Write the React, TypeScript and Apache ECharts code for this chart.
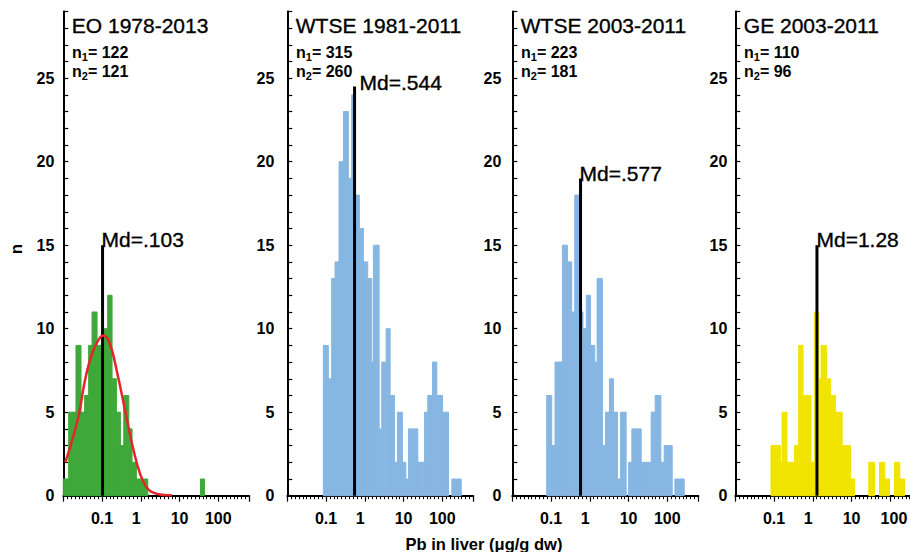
import React, { useEffect, useRef } from 'react';
import * as echarts from 'echarts';

// ---------------- data ----------------
const panelTitles = ['EO 1978-2013', 'WTSE 1981-2011', 'WTSE 2003-2011', 'GE 2003-2011'];
const panelN1 = [122, 315, 223, 110];
const panelN2 = [121, 260, 181, 96];
const medianValues = [0.103, 0.544, 0.577, 1.28];
const medianLabels = ['Md=.103', 'Md=.544', 'Md=.577', 'Md=1.28'];
const medianLineHeights = [15, 24.5, 19, 15];

// histogram bin edges (log10 of µg/g dw) and counts
const eoEdgesLog10 = [-2.0, -1.862, -1.768, -1.673, -1.543, -1.45, -1.346, -1.258, -1.129, -0.99, -0.855, -0.742, -0.63, -0.527, -0.44, -0.31, -0.226, -0.114, -0.016, 0.082, 0.18, 1.54, 1.643];
const eoCounts = [1, 5, 5, 9, 5, 6, 9, 11, 9, 10, 12, 7, 5, 3, 6, 4, 2, 1, 1, 1, 0, 1];

const wtse8111EdgesLog10 = [-1.07, -0.941, -0.855, -0.768, -0.665, -0.553, -0.424, -0.338, -0.25, -0.14, -0.036, 0.075, 0.179, 0.222, 0.369, 0.438, 0.55, 0.653, 0.765, 0.842, 0.972, 1.058, 1.127, 1.248, 1.368, 1.454, 1.54, 1.626, 1.747, 1.858, 2.005, 2.16, 2.246, 2.367, 2.488];
const wtse8111Counts = [9, 7, 13, 14, 20, 23, 19, 24, 18, 16, 14, 13, 8, 15, 4, 8, 10, 6, 2, 5, 2, 1, 4, 4, 2, 2, 5, 6, 8, 6, 5, 0, 1, 1];

const wtse0311EdgesLog10 = [-1.112, -0.983, -0.897, -0.802, -0.707, -0.578, -0.466, -0.388, -0.25, -0.175, -0.09, 0.02, 0.128, 0.189, 0.326, 0.404, 0.507, 0.611, 0.714, 0.791, 0.938, 0.998, 1.085, 1.205, 1.326, 1.455, 1.584, 1.687, 1.834, 1.92, 2.02, 2.127, 2.196, 2.317, 2.437];
const wtse0311Counts = [6, 3, 8, 8, 15, 14, 11, 18, 11, 10, 12, 9, 8, 13, 3, 5, 7, 5, 1, 5, 0, 2, 4, 4, 2, 2, 5, 6, 2, 3, 3, 0, 1, 1];

const ge0311EdgesLog10 = [-1.078, -0.958, -0.837, -0.794, -0.665, -0.57, -0.475, -0.364, -0.251, -0.148, -0.045, 0.041, 0.153, 0.214, 0.351, 0.455, 0.584, 0.67, 0.757, 0.865, 0.972, 1.075, 1.445, 1.592, 1.721, 1.859, 1.979, 2.109, 2.246, 2.367];
const ge0311Counts = [3, 3, 2, 5, 2, 2, 3, 9, 6, 6, 2, 11, 7, 9, 7, 6, 5, 5, 3, 3, 1, 0, 2, 0, 2, 1, 0, 2, 1];

// fitted curve (EO panel)
const eoFitLog10 = [-1.948, -1.775, -1.604, -1.432, -1.26, -1.088, -0.974, -0.871, -0.742, -0.613, -0.484, -0.354, -0.225, -0.096, 0.033, 0.204, 0.42, 0.8];
const eoFitN = [2.0, 3.3, 4.8, 7.0, 8.5, 9.35, 9.6, 9.45, 8.7, 7.4, 6.0, 4.5, 3.1, 1.9, 1.0, 0.35, 0.1, 0.02];

// axes
const xTickValuesLog10 = [-1, 0, 1, 2];
const xTickLabels = ['0.1', '1', '10', '100'];
const X_MIN = -2;
const X_MAX = 2.8;
const Y_MAX = 29;
const Y_LABEL_STEP = 5;
const xAxisTitle = 'Pb in liver (μg/g dw)';
const yAxisTitle = 'n';

// ---------------- layout / style ----------------
const FONT = '"Liberation Sans", Arial, Helvetica, sans-serif';
const CANVAS_W = 940; // wider than the 910 view so the last panel is not squeezed; clipped by the wrapper
const GRID_LEFTS = [63.3, 287.3, 512.3, 735.3];
const GRID_W = 186;
const GRID_TOP = 11.4;
const GRID_H = 484.3;
const Y_LABEL_MARGINS = [9, 13, 11, 8];
const MD_DX = [-1, 5, -1, -0.5];
const MD_DY = [-5.6, -4.1, -5.1, -5.6];
const FILLS = ['#3fa83a', '#86b6e2', '#86b6e2', '#f0e400'];
const RED = '#e3262b';

export default function App() {
  const ref = useRef<HTMLDivElement>(null);

  useEffect(() => {
    const el = ref.current;
    if (!el) return;
    const chart = echarts.init(el, undefined, { renderer: 'svg' });

    const edgesList = [eoEdgesLog10, wtse8111EdgesLog10, wtse0311EdgesLog10, ge0311EdgesLog10];
    const countsList = [eoCounts, wtse8111Counts, wtse0311Counts, ge0311Counts];

    const labelBase = { fontSize: 16, fontWeight: 'bold', fontFamily: FONT, color: '#000' };

    const grids = GRID_LEFTS.map((l) => ({
      left: l,
      top: GRID_TOP,
      width: GRID_W,
      height: GRID_H,
      containLabel: false,
      outerBoundsMode: 'none',
    }));

    const xAxes = GRID_LEFTS.map((_, i) => ({
      type: 'value',
      gridIndex: i,
      min: X_MIN,
      max: X_MAX,
      interval: 1,
      axisLine: { show: true, onZero: false, lineStyle: { color: '#000', width: 2 } },
      axisTick: { show: true, length: 6, lineStyle: { color: '#000', width: 1.2 } },
      minorTick: { show: true, splitNumber: 10, length: 3.5, lineStyle: { color: '#000', width: 1 } },
      splitLine: { show: false },
      minorSplitLine: { show: false },
      axisLabel: {
        ...labelBase,
        margin: 15,
        showMinLabel: true,
        showMaxLabel: true,
        hideOverlap: false,
        formatter: (v: number) => {
          const k = xTickValuesLog10.findIndex((t) => Math.abs(t - v) < 1e-6);
          if (k < 0) return '';
          const txt = xTickLabels[k];
          if (txt === '1') return '{one|' + txt + '}';
          if (i === 3 && txt === '100') return '{hund|' + txt + '}';
          return txt;
        },
        rich: {
          one: { ...labelBase, width: 18, align: 'left' },
          hund: { ...labelBase, width: 34, align: 'right' },
        },
      },
    }));

    const yAxes = GRID_LEFTS.map((_, i) => ({
      type: 'value',
      gridIndex: i,
      min: 0,
      max: Y_MAX,
      interval: 1,
      axisLine: { show: true, onZero: false, lineStyle: { color: '#000', width: 2 } },
      axisTick: { show: true, inside: true, length: 5, lineStyle: { color: '#000', width: 1.2 } },
      splitLine: { show: false },
      axisLabel: {
        ...labelBase,
        margin: Y_LABEL_MARGINS[i],
        formatter: (v: number) => (Math.round(v) % Y_LABEL_STEP === 0 ? String(Math.round(v)) : ''),
      },
    }));

    const barSeries = countsList.map((counts, i) => {
      const edges = edgesList[i];
      return {
        type: 'custom',
        coordinateSystem: 'cartesian2d',
        xAxisIndex: i,
        yAxisIndex: i,
        z: 2,
        data: counts.map((c, j) => [edges[j], edges[j + 1], c]),
        encode: { x: [0, 1], y: 2 },
        renderItem: (_p: any, api: any) => {
          const c = api.value(2);
          if (!c) return null;
          const a = api.coord([api.value(0), 0]);
          const b = api.coord([api.value(1), c]);
          return {
            type: 'rect',
            shape: { x: a[0], y: b[1], width: b[0] - a[0], height: a[1] - b[1] },
            style: { fill: FILLS[i], stroke: FILLS[i], lineWidth: 1 },
          };
        },
      };
    });

    const medianSeries = medianValues.map((m, i) => ({
      type: 'custom',
      coordinateSystem: 'cartesian2d',
      xAxisIndex: i,
      yAxisIndex: i,
      z: 4,
      data: [[Math.log10(m), medianLineHeights[i]]],
      encode: { x: 0, y: 1 },
      renderItem: (_p: any, api: any) => {
        const bottom = api.coord([api.value(0), 0]);
        const top = api.coord([api.value(0), api.value(1)]);
        return {
          type: 'group',
          children: [
            {
              type: 'line',
              shape: { x1: bottom[0], y1: bottom[1], x2: top[0], y2: top[1] },
              style: { stroke: '#000', lineWidth: 3 },
            },
            {
              type: 'text',
              x: top[0] + MD_DX[i],
              y: top[1] + MD_DY[i],
              style: {
                text: medianLabels[i],
                fontSize: 21,
                fontFamily: FONT,
                fill: '#000',
                stroke: '#000',
                lineWidth: 0.35,
                align: 'left',
                verticalAlign: 'middle',
                textAlign: 'left',
                textVerticalAlign: 'middle',
              },
            },
          ],
        };
      },
    }));

    const curveSeries = {
      type: 'line',
      xAxisIndex: 0,
      yAxisIndex: 0,
      z: 5,
      smooth: 0.4,
      symbol: 'none',
      showSymbol: false,
      lineStyle: { color: RED, width: 2.5 },
      data: eoFitLog10.map((x, j) => [x, eoFitN[j]]),
    };

    const nRich = {
      b: { fontSize: 16, fontWeight: 'bold', fontFamily: FONT, fill: '#000', color: '#000', lineHeight: 17 },
      s: { fontSize: 11, fontWeight: 'bold', fontFamily: FONT, fill: '#000', color: '#000', lineHeight: 11, padding: [10, 0, 0, 0] },
    };

    const graphics: any[] = [];
    GRID_LEFTS.forEach((l, i) => {
      graphics.push({
        type: 'text',
        x: l + 8.5,
        y: 25.2,
        style: { text: panelTitles[i], fontSize: 21, fontFamily: FONT, fill: '#000', stroke: '#000', lineWidth: 0.35, align: 'left', verticalAlign: 'middle', textAlign: 'left', textVerticalAlign: 'middle' },
      });
      graphics.push({
        type: 'text',
        x: l + 8.7,
        y: 52,
        style: { text: '{b|n}{s|1}{b|= ' + panelN1[i] + '}', rich: nRich, align: 'left', verticalAlign: 'middle', textAlign: 'left', textVerticalAlign: 'middle' },
      });
      graphics.push({
        type: 'text',
        x: l + 8.7,
        y: 71,
        style: { text: '{b|n}{s|2}{b|= ' + panelN2[i] + '}', rich: nRich, align: 'left', verticalAlign: 'middle', textAlign: 'left', textVerticalAlign: 'middle' },
      });
    });
    graphics.push({
      type: 'text',
      x: 484,
      y: 543.6,
      style: { text: xAxisTitle, fontSize: 16.5, fontWeight: 'bold', fontFamily: FONT, fill: '#000', align: 'center', verticalAlign: 'middle', textAlign: 'center', textVerticalAlign: 'middle' },
    });
    graphics.push({
      type: 'text',
      x: 16.5,
      y: 249,
      rotation: Math.PI / 2,
      style: { text: yAxisTitle, fontSize: 17, fontWeight: 'bold', fontFamily: FONT, fill: '#000', align: 'center', verticalAlign: 'middle', textAlign: 'center', textVerticalAlign: 'middle' },
    });

    chart.setOption({
      animation: false,
      textStyle: { fontFamily: FONT },
      grid: grids,
      xAxis: xAxes,
      yAxis: yAxes,
      series: [...barSeries, curveSeries, ...medianSeries],
      graphic: { elements: graphics },
    });

    return () => {
      chart.dispose();
    };
  }, []);

  return (
    <div style={{ position: 'absolute', left: 0, top: 0, width: 910, height: 552, overflow: 'hidden', background: '#fff' }}>
      <div ref={ref} style={{ position: 'absolute', left: 0, top: 0, width: CANVAS_W, height: 552 }} />
    </div>
  );
}
